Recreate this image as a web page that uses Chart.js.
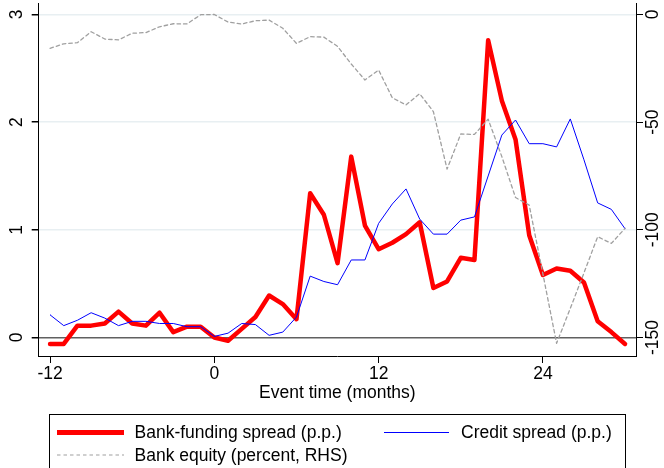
<!DOCTYPE html>
<html>
<head>
<meta charset="utf-8">
<script src="https://cdn.jsdelivr.net/npm/chart.js@4/dist/chart.umd.min.js"></script>
<style>
  body { margin: 0; background: #fff; }
  #wrap { position: relative; width: 664px; height: 468px; overflow: hidden; font-family: "Liberation Sans", Arial, sans-serif; }
  #legend { position: absolute; left: 49px; top: 414px; width: 577px; height: 80px; border: 1px solid #000; box-sizing: border-box; font-size: 17.5px; color: #000; }
  #legend .item { position: absolute; white-space: nowrap; line-height: 20px; }
  #legend .swatch { position: absolute; }
</style>
</head>
<body>
<div id="wrap">
  <canvas id="chart" width="664" height="468"></canvas>
  <div id="legend">
    <div class="swatch" style="left:7px; top:14.5px; width:67px; height:5px; background:#ff0000;"></div>
    <div class="item" style="left:84.5px; top:7px;">Bank-funding spread (p.p.)</div>
    <div class="swatch" style="left:333.5px; top:16.5px; width:65px; height:1px; background:#0000ff;"></div>
    <div class="item" style="left:411px; top:7px;">Credit spread (p.p.)</div>
    <svg class="swatch" style="left:7px; top:38px;" width="67" height="4"><line x1="0" y1="2" x2="67" y2="2" stroke="#a0a0a0" stroke-width="1.2" stroke-dasharray="3.5,3"/></svg>
    <div class="item" style="left:84.5px; top:30px;">Bank equity (percent, RHS)</div>
  </div>
</div>
<script>
// event time in months
const months = [];
for (let m = -12; m <= 30; m++) months.push(m);

// bank-funding spread, p.p.
const bankFunding = [-0.06, -0.06, 0.11, 0.11, 0.13, 0.24, 0.13, 0.11, 0.23, 0.05, 0.10, 0.10,
  0.00, -0.03, 0.08, 0.19, 0.39, 0.31, 0.17, 1.34, 1.14, 0.69, 1.68, 1.04,
  0.82, 0.88, 0.96, 1.07, 0.46, 0.52, 0.74, 0.72, 2.76, 2.20, 1.84, 0.95,
  0.58, 0.64, 0.62, 0.51, 0.15, 0.05, -0.06];

// credit spread, p.p.
const creditSpread = [0.21, 0.11, 0.16, 0.23, 0.18, 0.11, 0.15, 0.15, 0.13, 0.13, 0.10, 0.10,
  0.01, 0.04, 0.13, 0.12, 0.02, 0.05, 0.19, 0.57, 0.52, 0.49, 0.72, 0.72,
  1.06, 1.24, 1.38, 1.10, 0.96, 0.96, 1.09, 1.12, 1.50, 1.88, 2.02, 1.80,
  1.80, 1.77, 2.03, 1.65, 1.25, 1.19, 1.01];

// bank equity, percent (right axis)
const bankEquity = [-15.7, -13.6, -13.1, -8.0, -11.4, -11.8, -8.7, -8.4, -5.7, -4.3, -4.4, -0.1,
  0, -3.5, -4.4, -2.9, -2.6, -6.4, -13.4, -10.3, -10.5, -14.8, -23.0, -30.4,
  -25.8, -38.7, -42.0, -36.8, -45.1, -71.8, -55.5, -55.7, -48.6, -66.0, -85.0, -88.5,
  -120.5, -152.7, -136.5, -120.0, -103.2, -106.3, -99.3];

const xTicks = [-12, 0, 12, 24];
const leftTicks = [0, 1, 2, 3];
const rightTicks = [-150, -100, -50, 0];

const FONT = { family: '"Liberation Sans", Arial, sans-serif', size: 17.5 };

function pts(ys) {
  return months.map((m, i) => ({ x: m, y: ys[i] }));
}

// keep rotated labels from shrinking the plot area
function noPad(s) {
  s.paddingTop = 0;
  s.paddingBottom = 0;
  s.paddingLeft = 0;
  s.paddingRight = 0;
}

new Chart(document.getElementById('chart'), {
  type: 'line',
  data: {
    datasets: [
      {
        label: 'Bank-funding spread (p.p.)',
        data: pts(bankFunding),
        borderColor: '#ff0000',
        borderWidth: 4.5,
        yAxisID: 'y',
        order: 3
      },
      {
        label: 'Credit spread (p.p.)',
        data: pts(creditSpread),
        borderColor: '#0000ff',
        borderWidth: 1,
        yAxisID: 'y',
        order: 2
      },
      {
        label: 'Bank equity (percent, RHS)',
        data: pts(bankEquity),
        borderColor: '#a0a0a0',
        borderWidth: 1.3,
        borderDash: [3.5, 3],
        yAxisID: 'y2',
        order: 1
      }
    ]
  },
  options: {
    responsive: false,
    animation: false,
    elements: { point: { radius: 0 }, line: { tension: 0, borderJoinStyle: 'round', borderCapStyle: 'round' } },
    layout: { padding: { top: 3.3, left: 0, right: 0, bottom: 64.5 } },
    plugins: { legend: { display: false }, tooltip: { enabled: false } },
    scales: {
      x: {
        type: 'linear',
        min: -12.83,
        max: 30.8,
        afterBuildTicks: s => { s.ticks = xTicks.map(v => ({ value: v })); },
        afterFit: s => { s.height = 47.5; noPad(s); },
        ticks: { color: '#000', font: FONT, padding: 1, maxRotation: 0 },
        grid: { drawOnChartArea: false, tickColor: '#000', tickLength: 7, lineWidth: 1 },
        border: { color: '#000', width: 1 },
        title: { display: true, text: 'Event time (months)', color: '#000', font: FONT, padding: 0 }
      },
      y: {
        position: 'left',
        min: -0.172,
        max: 3.104,
        afterBuildTicks: s => { s.ticks = leftTicks.map(v => ({ value: v })); },
        afterFit: s => { s.width = 38.7; noPad(s); },
        ticks: { color: '#000', font: FONT, minRotation: 90, maxRotation: 90, crossAlign: 'center', padding: 9.8 },
        grid: {
          color: c => (c.tick && c.tick.value === 0) ? '#606060' : '#e8eff2',
          lineWidth: 1.5,
          tickColor: '#000',
          tickLength: 7
        },
        border: { color: '#000', width: 1 }
      },
      y2: {
        position: 'right',
        min: -158.6,
        max: 5.2,
        afterBuildTicks: s => { s.ticks = rightTicks.map(v => ({ value: v })); },
        afterFit: s => { s.width = 28; noPad(s); },
        ticks: { color: '#000', font: FONT, minRotation: 90, maxRotation: 90, crossAlign: 'center', padding: -7.5 },
        grid: { drawOnChartArea: false, tickColor: '#000', tickLength: 7 },
        border: { color: '#000', width: 1 }
      }
    }
  }
});
</script>
</body>
</html>
